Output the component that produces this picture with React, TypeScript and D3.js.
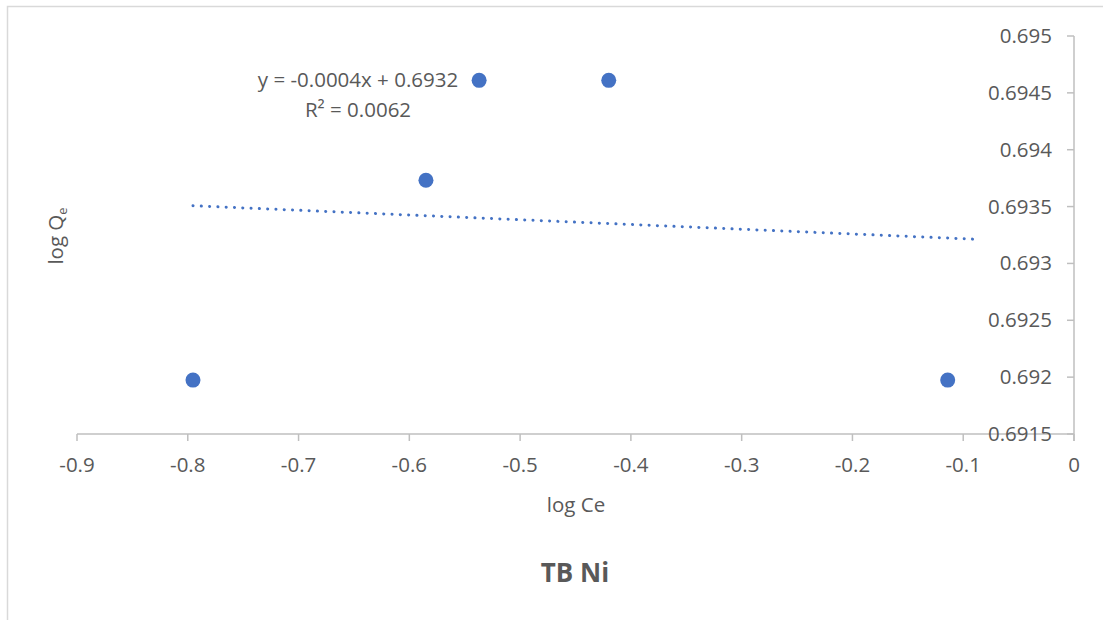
import React from "react";
import * as d3 from "d3";

const logCe = [-0.7953, -0.585, -0.537, -0.42, -0.114];
const logQe = [0.691974, 0.693732, 0.69461, 0.69461, 0.691974];
const xTicks = [-0.9, -0.8, -0.7, -0.6, -0.5, -0.4, -0.3, -0.2, -0.1, 0];
const yTicks = [0.6915, 0.692, 0.6925, 0.693, 0.6935, 0.694, 0.6945, 0.695];
const trendForward = 0.024;
const equationText = "y = -0.0004x + 0.6932";
const r2Value = "0.0062";

const W = 1103;
const H = 620;
const FONT = "'Open Sans', 'Segoe UI', sans-serif";
const TEXT = "#595959";
const AXIS = "#bfbfbf";
const BLUE = "#4472c4";

export default function App() {
  const x = d3.scaleLinear().domain([-0.9, 0]).range([77, 1074]);
  const y = d3.scaleLinear().domain([0.6915, 0.695]).range([434, 36]);

  // least-squares linear trendline from the data
  const mx = d3.mean(logCe)!;
  const my = d3.mean(logQe)!;
  let sxy = 0;
  let sxx = 0;
  logCe.forEach((v, i) => {
    sxy += (v - mx) * (logQe[i] - my);
    sxx += (v - mx) * (v - mx);
  });
  const slope = sxy / sxx;
  const intercept = my - slope * mx;

  const x0 = d3.min(logCe)!;
  const x1 = d3.max(logCe)! + trendForward;
  const trendPts: [number, number][] = [
    [x0, slope * x0 + intercept],
    [x1, slope * x1 + intercept],
  ];
  const line = d3
    .line<[number, number]>()
    .x((d) => x(d[0]))
    .y((d) => y(d[1]));

  return (
    <svg
      width={W}
      height={H}
      style={{ position: "absolute", left: 0, top: 0, display: "block", background: "#fff" }}
      fontFamily={FONT}
    >
      <rect x={0} y={0} width={W} height={H} fill="#fff" />
      <rect x={7.5} y={6.5} width={1300} height={800} fill="none" stroke="#d9d9d9" strokeWidth={1.5} />

      {/* x axis */}
      <line x1={x(-0.9)} x2={x(0)} y1={y(0.6915)} y2={y(0.6915)} stroke={AXIS} strokeWidth={1.5} />
      {xTicks.map((t) => (
        <g key={"xt" + t}>
          <line x1={x(t)} x2={x(t)} y1={y(0.6915)} y2={y(0.6915) + 7} stroke={AXIS} strokeWidth={1.5} />
          <text x={x(t)} y={472} textAnchor="middle" fontSize={20.5} fill={TEXT}>
            {t === 0 ? "0" : String(t)}
          </text>
        </g>
      ))}

      {/* y axis */}
      <line x1={x(0)} x2={x(0)} y1={y(0.6915) + 7} y2={y(0.695)} stroke={AXIS} strokeWidth={1.5} />
      {yTicks.map((t) => (
        <g key={"yt" + t}>
          <line x1={x(0) - 7} x2={x(0)} y1={y(t)} y2={y(t)} stroke={AXIS} strokeWidth={1.5} />
          <text x={1052} y={y(t) + 7} textAnchor="end" fontSize={20.5} fill={TEXT}>
            {String(t)}
          </text>
        </g>
      ))}

      {/* trendline */}
      <path
        d={line(trendPts) || ""}
        fill="none"
        stroke={BLUE}
        strokeWidth={3}
        strokeLinecap="round"
        strokeDasharray="0.1 8.2"
      />

      {/* points */}
      {logCe.map((v, i) => (
        <circle key={"p" + i} cx={x(v)} cy={y(logQe[i])} r={7.5} fill={BLUE} />
      ))}

      {/* equation */}
      <text x={358} y={87} textAnchor="middle" fontSize={20.5} fill={TEXT}>
        {equationText}
      </text>
      <text x={358} y={117} textAnchor="middle" fontSize={20.5} fill={TEXT}>
        R² = {r2Value}
      </text>

      {/* axis titles */}
      <text x={576} y={512} textAnchor="middle" fontSize={20.5} fill={TEXT}>
        log Ce
      </text>
      <text transform="translate(63,236) rotate(-90)" textAnchor="middle" fontSize={20.5} fill={TEXT}>
        log Q<tspan fontSize={13} dy={4}>e</tspan>
      </text>

      {/* chart title */}
      <text x={575} y={582} textAnchor="middle" fontSize={26} fontWeight="bold" fill={TEXT}>
        TB Ni
      </text>
    </svg>
  );
}
